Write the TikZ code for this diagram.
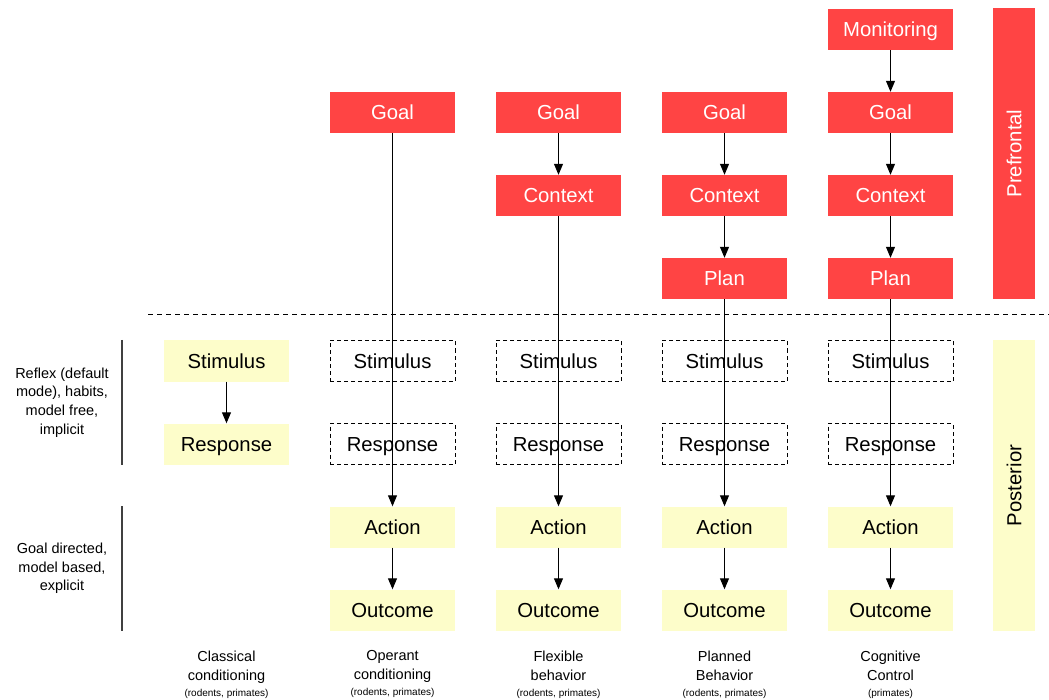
\documentclass[tikz,border=0pt]{standalone}
\usepackage{fontspec}
\setmainfont{Liberation Sans}
\usetikzlibrary{arrows.meta}
\definecolor{pfred}{HTML}{FF4444}
\definecolor{postyel}{HTML}{FDFDCA}
\tikzset{
  box/.style={minimum width=125pt,minimum height=41pt,inner sep=0pt,text height=14.5pt,text depth=0pt,font=\fontsize{20.3}{24}\selectfont},
  redbox/.style={box,fill=pfred,text=white},
  yelbox/.style={box,fill=postyel,text=black},
  dbox/.style={box,draw=black,line width=0.9pt,dash pattern=on 4pt off 3pt,text=black},
  arr/.style={line width=1pt,-{Triangle[length=11pt,width=9pt]}},
  sidelbl/.style={align=center,font=\fontsize{14.5}{18.7}\selectfont},
  botlbl/.style={align=center,font=\fontsize{14.5}{19}\selectfont},
}
\newcommand{\smallnote}[1]{\\[-3pt]{\fontsize{10}{12}\selectfont #1}}
\begin{document}
\begin{tikzpicture}[x=1pt,y=-1pt]
\useasboundingbox (0,0) rectangle (1049,700);
% side bars
\node[fill=pfred,minimum width=42pt,minimum height=291pt,inner sep=0pt] (pf) at (1014,153.5) {};
\node[rotate=90,text=white,font=\fontsize{20.3}{24}\selectfont] (pft) at (pf.center) {Prefrontal};
\node[fill=postyel,minimum width=42pt,minimum height=291pt,inner sep=0pt] (po) at (1014,485.5) {};
\node[rotate=90,text=black,font=\fontsize{20.3}{24}\selectfont] (pot) at (po.center) {Posterior};
% dashed separator
\coordinate (sepL) at (148,315);
\coordinate (sepR) at (1049,315);
\draw[line width=1pt,dash pattern=on 5pt off 4pt] (sepL) -- (sepR);
% left brackets
\coordinate (b1t) at (122,340); \coordinate (b1b) at (122,465);
\coordinate (b2t) at (122,506); \coordinate (b2b) at (122,631);
\draw[line width=1.2pt,black!75] (b1t) -- (b1b);
\draw[line width=1.2pt,black!75] (b2t) -- (b2b);
\node[sidelbl] (l1) at (62,402.5) {Reflex (default\\mode), habits,\\model free,\\implicit};
\node[sidelbl] (l2) at (62,568.5) {Goal directed,\\model based,\\explicit};
% classical column
\node[yelbox] (s0) at (226.5,361) {Stimulus};
\node[yelbox] (r0) at (226.5,444) {Response};
% operant
\node[redbox] (g1) at (392.5,112.5) {Goal};
\node[dbox] (s1) at (392.5,361) {Stimulus};
\node[dbox] (r1) at (392.5,444) {Response};
\node[yelbox] (a1) at (392.5,527) {Action};
\node[yelbox] (o1) at (392.5,610) {Outcome};
% flexible
\node[redbox] (g2) at (558.5,112.5) {Goal};
\node[redbox] (c2) at (558.5,195.5) {Context};
\node[dbox] (s2) at (558.5,361) {Stimulus};
\node[dbox] (r2) at (558.5,444) {Response};
\node[yelbox] (a2) at (558.5,527) {Action};
\node[yelbox] (o2) at (558.5,610) {Outcome};
% planned
\node[redbox] (g3) at (724.5,112.5) {Goal};
\node[redbox] (c3) at (724.5,195.5) {Context};
\node[redbox] (p3) at (724.5,278.5) {Plan};
\node[dbox] (s3) at (724.5,361) {Stimulus};
\node[dbox] (r3) at (724.5,444) {Response};
\node[yelbox] (a3) at (724.5,527) {Action};
\node[yelbox] (o3) at (724.5,610) {Outcome};
% cognitive
\node[redbox] (m4) at (890.5,29.5) {Monitoring};
\node[redbox] (g4) at (890.5,112.5) {Goal};
\node[redbox] (c4) at (890.5,195.5) {Context};
\node[redbox] (p4) at (890.5,278.5) {Plan};
\node[dbox] (s4) at (890.5,361) {Stimulus};
\node[dbox] (r4) at (890.5,444) {Response};
\node[yelbox] (a4) at (890.5,527) {Action};
\node[yelbox] (o4) at (890.5,610) {Outcome};
% arrows
\draw[arr] (s0) -- (r0);
\draw[arr] (g1) -- (a1);
\draw[arr] (a1) -- (o1);
\draw[arr] (g2) -- (c2);
\draw[arr] (c2) -- (a2);
\draw[arr] (a2) -- (o2);
\draw[arr] (g3) -- (c3);
\draw[arr] (c3) -- (p3);
\draw[arr] (p3) -- (a3);
\draw[arr] (a3) -- (o3);
\draw[arr] (m4) -- (g4);
\draw[arr] (g4) -- (c4);
\draw[arr] (c4) -- (p4);
\draw[arr] (p4) -- (a4);
\draw[arr] (a4) -- (o4);
% bottom labels
\node[botlbl,anchor=north] (t0) at (226.5,647) {Classical\\conditioning\smallnote{(rodents, primates)}};
\node[botlbl,anchor=north] (t1) at (392.5,647) {Operant\\conditioning\smallnote{(rodents, primates)}};
\node[botlbl,anchor=north] (t2) at (558.5,647) {Flexible\\behavior\smallnote{(rodents, primates)}};
\node[botlbl,anchor=north] (t3) at (724.5,647) {Planned\\Behavior\smallnote{(rodents, primates)}};
\node[botlbl,anchor=north] (t4) at (890.5,647) {Cognitive\\Control\smallnote{(primates)}};
\end{tikzpicture}
\end{document}
